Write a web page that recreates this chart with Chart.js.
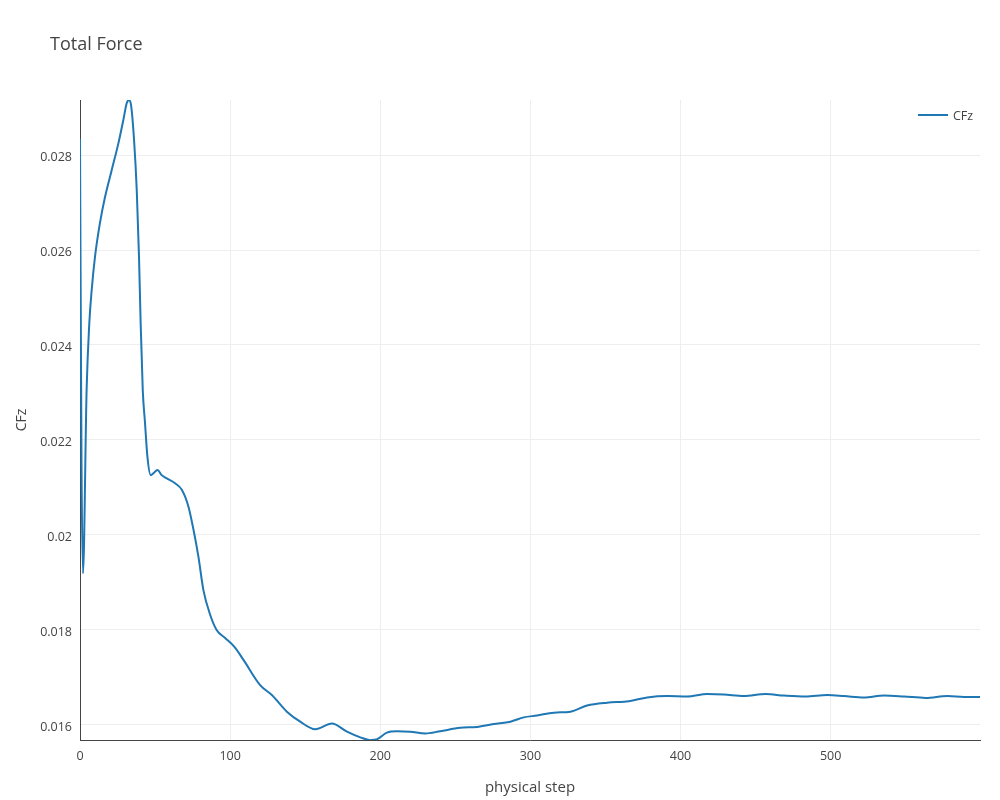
<!DOCTYPE html>
<html>
<head>
<meta charset="utf-8">
<script src="https://cdn.jsdelivr.net/npm/chart.js@4"></script>
<style>
  html, body { margin: 0; padding: 0; background: #fff; }
  #wrap { width: 1000px; height: 800px; }
</style>
</head>
<body>
<div id="wrap"><canvas id="c" width="1000" height="800"></canvas></div>
<script>
const chartTitle = "Total Force";
const seriesLabel = "CFz";
const xTitle = "physical step";
const yTitle = "CFz";
const xTicks = [0, 100, 200, 300, 400, 500];
const yTicks = [0.016, 0.018, 0.020, 0.022, 0.024, 0.026, 0.028];
const steps = [0, 1, 2, 4.4, 6.2, 7.8, 10, 13.3, 16.7, 21.1, 25.6, 28.9, 31.1, 32.7, 34, 36, 37.8, 39.3, 40.4, 41.8, 43.3, 44.9, 47.1, 48.9, 51.6, 54.4, 57.8, 63.3, 67.8, 72.2, 75.6, 78.9, 82.2, 86.7, 91, 96.7, 103, 108.9, 120, 127.8, 137.8, 146.7, 156.7, 167.8, 177.8, 186.7, 193.3, 197.8, 204.4, 211.1, 220, 230, 240, 253.3, 264.4, 275.6, 286.7, 295.6, 304.4, 315.6, 326.7, 337.8, 351.1, 365.6, 377.8, 391.1, 404.4, 417.8, 428.9, 442.2, 456.7, 468.9, 483.3, 497.8, 508.9, 522.2, 535.6, 548.9, 563.3, 577.8, 588.9, 599.5];
const cfz = [0.02834, 0.0215, 0.01919, 0.02305, 0.02446, 0.02516, 0.02586, 0.02657, 0.02712, 0.02768, 0.02825, 0.02874, 0.02909, 0.02916, 0.02905, 0.02832, 0.02726, 0.02586, 0.02446, 0.02305, 0.02236, 0.02165, 0.02126, 0.0213, 0.02137, 0.02126, 0.02119, 0.02109, 0.02095, 0.0206, 0.02011, 0.01954, 0.01884, 0.01832, 0.018, 0.01783, 0.01764, 0.01737, 0.01684, 0.01663, 0.01628, 0.01607, 0.01591, 0.01603, 0.01586, 0.01574, 0.01568, 0.0157, 0.01584, 0.01587, 0.01586, 0.01582, 0.01587, 0.01594, 0.01596, 0.01602, 0.01607, 0.01616, 0.0162, 0.01626, 0.01628, 0.01641, 0.01647, 0.0165, 0.01658, 0.01661, 0.0166, 0.01665, 0.01664, 0.01661, 0.01665, 0.01662, 0.0166, 0.01663, 0.01661, 0.01658, 0.01662, 0.0166, 0.01657, 0.01661, 0.01659, 0.01659];

const FONT = "'Open Sans', 'Noto Sans', sans-serif";
const TXT = '#444444';
const LINE = '#1f77b4';

const titleLegendPlugin = {
  id: 'titleLegend',
  afterDraw(chart) {
    const ctx = chart.ctx;
    const area = chart.chartArea;
    ctx.save();
    ctx.font = "18px " + FONT;
    ctx.fillStyle = TXT;
    ctx.textAlign = 'left';
    ctx.textBaseline = 'middle';
    ctx.fillText(chartTitle, 50, 45);
    // legend (top-right inside plot)
    const ly = area.top + 15;
    ctx.strokeStyle = LINE;
    ctx.lineWidth = 2;
    ctx.beginPath();
    ctx.moveTo(area.right - 62, ly);
    ctx.lineTo(area.right - 32, ly);
    ctx.stroke();
    ctx.font = "12.5px " + FONT;
    ctx.fillStyle = TXT;
    ctx.fillText(chart.data.datasets[0].label, area.right - 27, ly + 1);
    ctx.restore();
  }
};

new Chart(document.getElementById('c'), {
  type: 'line',
  data: {
    datasets: [{
      label: seriesLabel,
      data: steps.map((s, i) => ({ x: s, y: cfz[i] })),
      borderColor: LINE,
      backgroundColor: LINE,
      borderWidth: 2,
      pointRadius: 0,
      fill: false,
      cubicInterpolationMode: 'monotone'
    }]
  },
  plugins: [titleLegendPlugin],
  options: {
    responsive: false,
    animation: false,
    devicePixelRatio: 1,
    layout: { padding: { top: 100, right: 20, left: 0, bottom: 0 } },
    plugins: {
      legend: { display: false },
      tooltip: { enabled: false },
      title: { display: false }
    },
    scales: {
      x: {
        type: 'linear',
        min: 0,
        max: 599.5,
        afterFit(scale) { scale.height = 60; },
        afterBuildTicks(scale) { scale.ticks = xTicks.map(v => ({ value: v })); },
        grid: { color: '#eeeeee', drawTicks: false, lineWidth: 1 },
        border: { display: true, color: '#444444', width: 1 },
        ticks: { color: TXT, font: { family: FONT, size: 12.5 }, padding: 9, maxRotation: 0,
          callback: v => String(v) },
        title: { display: true, text: xTitle, color: TXT, font: { family: FONT, size: 15 }, padding: { top: 0, bottom: 3 } }
      },
      y: {
        type: 'linear',
        min: 0.015684,
        max: 0.029158,
        afterFit(scale) { scale.width = 80; },
        afterBuildTicks(scale) { scale.ticks = yTicks.map(v => ({ value: v })); },
        grid: { color: '#eeeeee', drawTicks: false, lineWidth: 1 },
        border: { display: true, color: '#444444', width: 1 },
        ticks: { color: TXT, font: { family: FONT, size: 12.5 }, padding: 8, labelOffset: 2,
          callback: v => String(parseFloat(v.toFixed(3))) },
        title: { display: true, text: yTitle, color: TXT, font: { family: FONT, size: 14 }, padding: { top: 14, bottom: 0 } }
      }
    }
  }
});
</script>
</body>
</html>
